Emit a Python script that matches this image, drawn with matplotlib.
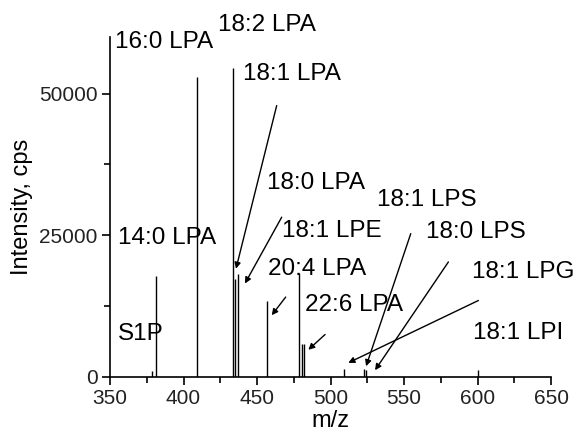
import matplotlib
matplotlib.use("Agg")
import matplotlib.pyplot as plt
from matplotlib.ticker import MultipleLocator

plt.rcParams['font.family'] = ['Liberation Sans', 'DejaVu Sans']

# peak list (m/z, intensity in cps)
peak_mz = [378.4, 381.0, 409.0, 433.5, 435.0, 436.8, 457.0, 478.6, 480.8, 481.9,
           509.4, 522.6, 524.2, 600.0]
peak_int = [1000, 17800, 53000, 54600, 17300, 18100, 13400, 18300, 5800, 5800,
            1500, 1350, 1150, 1200]

# labels: text, left x (m/z), center y (cps)
label_text = ["16:0 LPA", "18:2 LPA", "18:1 LPA", "18:0 LPA", "18:1 LPS", "18:1 LPE",
              "18:0 LPS", "14:0 LPA", "20:4 LPA", "18:1 LPG", "22:6 LPA", "S1P", "18:1 LPI"]
label_x = [353.4, 423.5, 440.5, 456.6, 531.6, 466.8, 564.8, 355.6, 457.7, 596.1, 482.7, 355.4, 597.2]
label_y = [59100, 62100, 53500, 34200, 31200, 25700, 25500, 24500, 19000, 18500, 12700, 7500, 7700]

# arrows: (start mz, start cps) -> (end mz, end cps)
arrow_from_x = [463.4, 466.8, 469.5, 496.3, 554.6, 580.2, 600.6]
arrow_from_y = [47900, 28200, 14100, 7500, 25300, 20300, 13500]
arrow_to_x = [435.7, 441.8, 460.0, 484.9, 524.2, 530.3, 512.1]
arrow_to_y = [19100, 16500, 10900, 4800, 1900, 1200, 2500]

fig = plt.figure(figsize=(5.75, 4.34), dpi=100)
ax = fig.add_axes([110 / 575, 57 / 434, 441 / 575, 340 / 434])

ax.vlines(peak_mz, 0, peak_int, colors='k', linewidth=1.0)

for t, x, y in zip(label_text, label_x, label_y):
    ax.text(x, y, t, fontsize=17.5, ha='left', va='center', clip_on=False)

for x0, y0, x1, y1 in zip(arrow_from_x, arrow_from_y, arrow_to_x, arrow_to_y):
    ax.annotate("", xy=(x1, y1), xytext=(x0, y0),
                arrowprops=dict(arrowstyle='-|>', color='k', lw=1.0,
                                mutation_scale=9, shrinkA=0, shrinkB=0))

ax.set_xlim(350, 650)
ax.set_ylim(0, 60000)
ax.xaxis.set_major_locator(MultipleLocator(50))
ax.xaxis.set_minor_locator(MultipleLocator(25))
ax.yaxis.set_major_locator(MultipleLocator(25000))
ax.yaxis.set_minor_locator(MultipleLocator(12500))

for side in ['top', 'right']:
    ax.spines[side].set_visible(False)
for side in ['left', 'bottom']:
    ax.spines[side].set_linewidth(1.2)

ax.tick_params(which='major', direction='out', length=6, width=1.2, labelsize=15, pad=3,
               labelcolor='#222222')
ax.tick_params(which='minor', direction='out', length=4, width=1.2)

ax.set_xlabel("m/z", fontsize=17, labelpad=1)
ax.set_ylabel("Intensity, cps", fontsize=17, labelpad=4)

fig.savefig("out.png", dpi=100)
